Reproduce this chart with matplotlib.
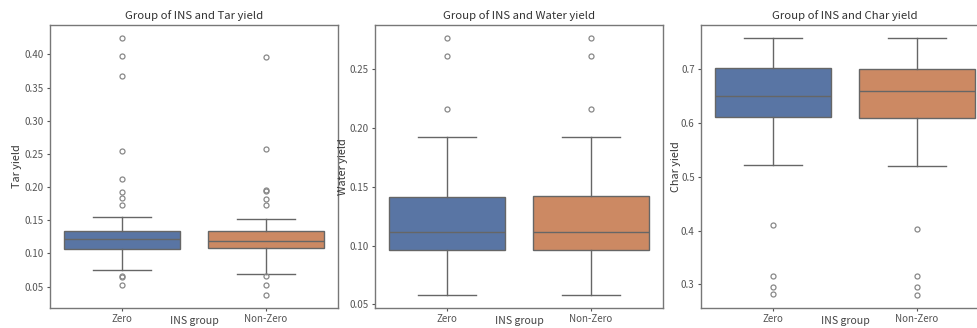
import matplotlib
matplotlib.use("Agg")
import matplotlib.pyplot as plt

plt.rcParams['font.family'] = ['Noto Sans CJK SC', 'DejaVu Sans']

groups = ["Zero", "Non-Zero"]
colors = ["#5975a4", "#cc8963"]

# box stats: [whislo, q1, med, q3, whishi]
tar_stats = [[0.0755, 0.1065, 0.1218, 0.133, 0.1553],
             [0.0695, 0.1077, 0.1192, 0.133, 0.1518]]
tar_fliers = [[0.425, 0.397, 0.367, 0.255, 0.212, 0.193, 0.183, 0.173, 0.066, 0.065, 0.052],
              [0.396, 0.258, 0.196, 0.194, 0.182, 0.173, 0.066, 0.053, 0.037]]

water_stats = [[0.0579, 0.0964, 0.1116, 0.141, 0.1926],
               [0.0580, 0.0964, 0.1116, 0.142, 0.1920]]
water_fliers = [[0.2765, 0.261, 0.2158],
                [0.2765, 0.261, 0.2158]]

char_stats = [[0.521, 0.611, 0.6506, 0.7025, 0.758],
              [0.520, 0.609, 0.659, 0.700, 0.757]]
char_fliers = [[0.41, 0.315, 0.295, 0.282],
               [0.402, 0.315, 0.295, 0.280]]

panels = [("Tar yield", tar_stats, tar_fliers),
          ("Water yield", water_stats, water_fliers),
          ("Char yield", char_stats, char_fliers)]

fig = plt.figure(figsize=(9.77, 3.28), dpi=100)
lefts = [0.0512, 0.3838, 0.7175]
ylabel_x = [-0.098, -0.093, -0.07]
line_col = "#666666"

for left, lx, (name, stats, fliers) in zip(lefts, ylabel_x, panels):
    ax = fig.add_axes([left, 0.061, 0.2948, 0.8628])
    bxp_stats = []
    for g, s, f in zip(groups, stats, fliers):
        bxp_stats.append(dict(label=g, whislo=s[0], q1=s[1], med=s[2], q3=s[3], whishi=s[4], fliers=f))
    parts = ax.bxp(bxp_stats, positions=[0, 1], widths=0.8, patch_artist=True,
                   boxprops=dict(edgecolor=line_col, linewidth=1.0),
                   medianprops=dict(color=line_col, linewidth=1.0),
                   whiskerprops=dict(color=line_col, linewidth=1.0),
                   capprops=dict(color=line_col, linewidth=1.0),
                   flierprops=dict(marker="o", markerfacecolor="none", markeredgecolor="#888888",
                                   markersize=3.6, markeredgewidth=0.9))
    for patch, c in zip(parts["boxes"], colors):
        patch.set_facecolor(c)
    for c in parts["caps"]:
        x = c.get_xdata()
        mid = (x[0] + x[1]) / 2
        c.set_xdata([mid - 0.2, mid + 0.2])
    ax.set_xlim(-0.5, 1.5)
    ax.margins(y=0.05)
    ax.set_title("Group of INS and " + name, fontsize=8.2, color="#333333", pad=4)
    ax.set_xlabel("INS group", fontsize=7.6, color="#444444", labelpad=-6)
    ax.set_ylabel(name, fontsize=7.8, color="#333333")
    ax.yaxis.set_label_coords(lx, 0.5)
    ax.tick_params(labelsize=7, colors="#555555", length=2.5, width=0.8, pad=2)
    for sp in ax.spines.values():
        sp.set_color("#777777")
        sp.set_linewidth(1.0)

ax0 = fig.axes[0]
ax0.set_yticks([0.05, 0.10, 0.15, 0.20, 0.25, 0.30, 0.35, 0.40])
ax0.set_yticklabels(["0.05", "0.10", "0.15", "0.20", "0.25", "0.30", "0.35", "0.40"])
fig.axes[1].set_yticks([0.05, 0.10, 0.15, 0.20, 0.25])
fig.axes[1].set_yticklabels(["0.05", "0.10", "0.15", "0.20", "0.25"])
fig.axes[2].set_yticks([0.3, 0.4, 0.5, 0.6, 0.7])

fig.savefig("out.png", dpi=100)
